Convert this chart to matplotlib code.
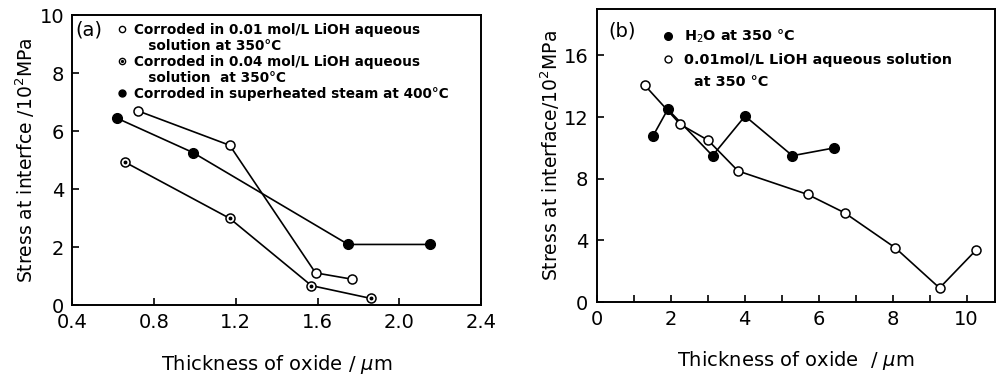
import matplotlib
matplotlib.use("Agg")
import matplotlib.pyplot as plt
from matplotlib.lines import Line2D
from matplotlib.ticker import MultipleLocator

plt.rcParams["font.family"] = ["DejaVu Sans"]
plt.rcParams["mathtext.fontset"] = "dejavusans"

# (a) thickness of oxide (um) vs stress (10^2 MPa)
a_lioh001_x = [0.72, 1.17, 1.59, 1.77]
a_lioh001_y = [6.70, 5.51, 1.11, 0.89]
a_lioh004_x = [0.66, 1.17, 1.57, 1.86]
a_lioh004_y = [4.92, 2.99, 0.67, 0.23]
a_steam_x = [0.62, 0.99, 1.75, 2.15]
a_steam_y = [6.44, 5.26, 2.09, 2.09]

# (b)
b_h2o_x = [1.52, 1.92, 3.13, 4.01, 5.29, 6.41]
b_h2o_y = [10.77, 12.5, 9.49, 12.06, 9.49, 9.99]
b_lioh_x = [1.30, 2.26, 3.01, 3.82, 5.70, 6.70, 8.07, 9.27, 10.25]
b_lioh_y = [14.05, 11.52, 10.49, 8.50, 6.98, 5.79, 3.52, 0.91, 3.35]

a_xticks = [0.4, 0.8, 1.2, 1.6, 2.0, 2.4]
a_yticks = [0, 2, 4, 6, 8, 10]
b_xticks = [0, 2, 4, 6, 8, 10]
b_yticks = [0, 4, 8, 12, 16]

LW = 1.2
MS = 6.5


def style_axes(ax):
    for s in ax.spines.values():
        s.set_linewidth(1.4)
    ax.tick_params(direction="in", length=5, width=1.2, labelsize=14, pad=6)
    ax.tick_params(which="minor", direction="in", length=5, width=1.2)


def open_line(ax, x, y, ms=MS):
    return ax.plot(x, y, "-", color="black", lw=LW, marker="o", ms=ms,
                   mfc="white", mec="black", mew=1.1, zorder=3)[0]


def dotted_line(ax, x, y):
    h1 = open_line(ax, x, y)
    h2 = ax.plot(x, y, linestyle="none", marker="o", ms=1.8, color="black", zorder=4)[0]
    return h1, h2


def filled_line(ax, x, y):
    return ax.plot(x, y, "-", color="black", lw=LW, marker="o", ms=MS + 0.5,
                   mfc="black", mec="black", zorder=3)[0]


fig = plt.figure(figsize=(9.98, 3.78), dpi=100)

# ---- panel (a)
ax1 = fig.add_axes([0.0725, 0.193, 0.4095, 0.767])
open_line(ax1, a_lioh001_x, a_lioh001_y)
dotted_line(ax1, a_lioh004_x, a_lioh004_y)
filled_line(ax1, a_steam_x, a_steam_y)
ax1.set_xlim(0.4, 2.4)
ax1.set_ylim(0, 10)
ax1.set_xticks(a_xticks)
ax1.set_xticklabels([f"{v:.1f}" for v in a_xticks])
ax1.set_yticks(a_yticks)
style_axes(ax1)
ax1.set_xlabel("Thickness of oxide / $\\mu$m", fontsize=14, labelpad=15)
ax1.set_ylabel("Stress at interfce /10$^2$MPa", fontsize=13.5, labelpad=2)
ax1.text(0.008, 0.93, "(a)", transform=ax1.transAxes, fontsize=14)

empty = Line2D([], [], linestyle="none", marker="none")
h_open = Line2D([], [], linestyle="none", marker="o", ms=4.5, mfc="white", mec="black", mew=1.0)
h_dot = (Line2D([], [], linestyle="none", marker="o", ms=4.5, mfc="white", mec="black", mew=1.0),
         Line2D([], [], linestyle="none", marker="o", ms=1.3, color="black"))
h_fill = Line2D([], [], linestyle="none", marker="o", ms=5, color="black")
leg1 = ax1.legend(
    [h_open, empty, h_dot, empty, h_fill],
    ["Corroded in 0.01 mol/L LiOH aqueous",
     "   solution at 350°C",
     "Corroded in 0.04 mol/L LiOH aqueous",
     "   solution  at 350°C",
     "Corroded in superheated steam at 400°C"],
    loc="upper left", bbox_to_anchor=(0.085, 1.005), frameon=False,
    prop={"size": 9.8, "weight": "bold"}, handlelength=0.8, handletextpad=0.5,
    labelspacing=0.14, borderpad=0.2)

# ---- panel (b)
ax2 = fig.add_axes([0.598, 0.201, 0.399, 0.775])
filled_line(ax2, b_h2o_x, b_h2o_y)
open_line(ax2, b_lioh_x, b_lioh_y)
ax2.set_xlim(0, 10.77)
ax2.set_ylim(0, 19)
ax2.set_xticks(b_xticks)
ax2.xaxis.set_minor_locator(MultipleLocator(1))
ax2.set_yticks(b_yticks)
style_axes(ax2)
ax2.set_xlabel("Thickness of oxide  / $\\mu$m", fontsize=14, labelpad=14)
ax2.set_ylabel("Stress at interface/10$^2$MPa", fontsize=13.5, labelpad=1)
ax2.text(0.03, 0.905, "(b)", transform=ax2.transAxes, fontsize=14)

h_fill_b = Line2D([], [], linestyle="none", marker="o", ms=5.5, color="black")
h_open_b = Line2D([], [], linestyle="none", marker="o", ms=5, mfc="white", mec="black", mew=1.0)
ax2.legend(
    [h_fill_b, h_open_b, empty],
    ["H$_2$O at 350 °C",
     "0.01mol/L LiOH aqueous solution",
     "  at 350 °C"],
    loc="upper left", bbox_to_anchor=(0.14, 0.97), frameon=False,
    prop={"size": 10.4, "weight": "bold"}, handlelength=0.8, handletextpad=0.7,
    labelspacing=0.55, borderpad=0.2)

fig.savefig("out.png", dpi=100)
